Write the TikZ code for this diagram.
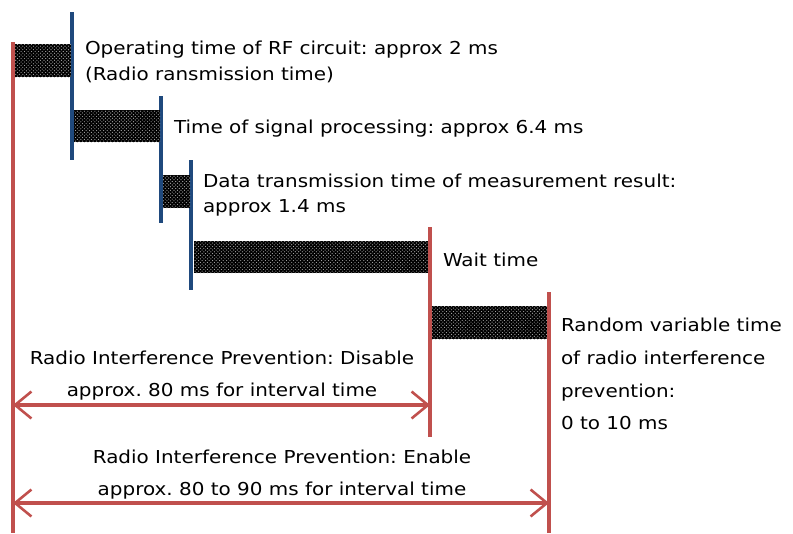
\documentclass[tikz,border=0pt]{standalone}
\usepackage{fontspec}
\setmainfont{DejaVu Sans}[FakeStretch=1.12]
\frenchspacing
\definecolor{redline}{RGB}{192,80,77}
\definecolor{blueline}{RGB}{31,73,125}
\usetikzlibrary{arrows.meta}
\usetikzlibrary{patterns}
\usetikzlibrary{positioning}
\tikzstyle{base}=[x=0.03cm, y=-0.03cm, inner sep=0pt, outer sep=0pt]
\tikzstyle{redmark}=[redline, line width=2.6pt]
\tikzstyle{bluemark}=[blueline, line width=2.6pt]
\tikzstyle{busy}=[fill=black, postaction={pattern=crosshatch dots, pattern color=white!70!black}]
\tikzstyle{label}=[font=\fontsize{15.2}{22}\selectfont, align=left, anchor=west]
\tikzstyle{interval}=[label, font=\fontsize{15.2}{27.2}\selectfont, align=center, anchor=center]
\tikzstyle{span}=[redmark, {Straight Barb[length=14pt, width=23pt, line width=2.2pt]}-{Straight Barb[length=14pt, width=23pt, line width=2.2pt]}]

\begin{document}
\begin{tikzpicture}[base]
    \path [use as bounding box] (0,0) rectangle (793,533);
    % time marks
    \draw [redmark] (13,42) coordinate (start top) -- (13,533) coordinate (start bot);
    \draw [bluemark] (72,12) -- (72,160);
    \draw [bluemark] (161,96) -- (161,223);
    \draw [bluemark] (191,160) -- (191,290);
    \draw [redmark] (430,227) coordinate (wait top) -- (430,437) coordinate (wait bot);
    \draw [redmark] (549,292) coordinate (rand top) -- (549,533) coordinate (rand bot);
    % busy bars
    \path [busy] (15,44) rectangle (71,77);
    \path [busy] (74,110) rectangle (160,142);
    \path [busy] (163,175) rectangle (190,208);
    \path [busy] (194,241) rectangle (428,273);
    \path [busy] (432,306) rectangle (547,339);
    % texts
    \node [label] (rf) at (85,62) {Operating time of RF circuit: approx 2 ms\\(Radio ransmission time)};
    \node [label] (proc) at (174,129) {Time of signal processing: approx 6.4 ms};
    \node [label] (data) at (203,195) {Data transmission time of measurement result:\\approx 1.4 ms};
    \node [label] (wait) at (443,260) {Wait time};
    \node [label, font=\fontsize{15.2}{28}\selectfont] (rand) at (561,374) {Random variable time\\of radio interference\\prevention:\\0 to 10 ms};
    \node [interval] (disable) at (222,376) {Radio Interference Prevention: Disable\\approx. 80 ms for interval time};
    \node [interval] (enable) at (282,475) {Radio Interference Prevention: Enable\\approx. 80 to 90 ms for interval time};
    % intervals
    \coordinate (d1) at (start top |- 0,405);
    \coordinate (d2) at (wait top |- 0,405);
    \coordinate (e1) at (start top |- 0,503);
    \coordinate (e2) at (rand top |- 0,503);
    \draw [span] (d1) -- (d2);
    \draw [span] (e1) -- (e2);
\end{tikzpicture}
\end{document}
